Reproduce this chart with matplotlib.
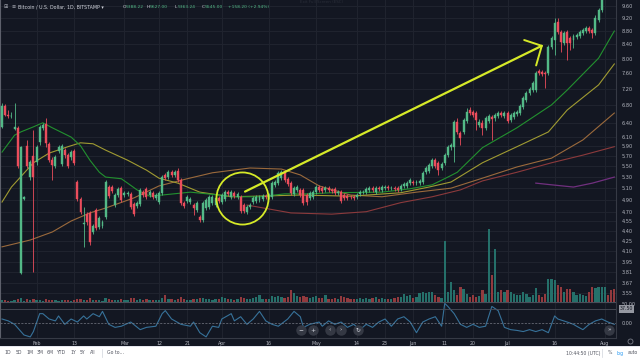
import matplotlib
matplotlib.use("Agg")
import matplotlib.pyplot as plt
import matplotlib.transforms as mtransforms
from matplotlib.lines import Line2D
from matplotlib.patches import Rectangle
import numpy as np
import pandas as pd

# ---- values (daily candles, price axis as labelled) ----
first_day = "2019-01-21"

opens = [6.31, 6.78, 6.58, 6.55, 6.27, 6.29, 3.80, 4.91, 5.91, 5.30,
         5.70, 5.59, 5.99, 6.29, 6.37, 5.95, 5.62, 5.51, 5.80, 5.55,
         5.82, 5.72, 5.68, 5.80, 5.21, 4.91, 4.50, 4.66, 4.68, 4.38,
         4.73, 4.46, 4.47, 4.61, 5.12, 5.12, 4.81, 4.98, 5.10, 4.98,
         5.00, 5.00, 4.83, 4.80, 4.83, 5.03, 5.09, 4.98, 5.02, 4.93,
         4.86, 5.02, 5.34, 5.30, 5.39, 5.34, 5.41, 5.25, 4.85, 4.88,
         4.86, 4.81, 4.73, 4.61, 4.57, 4.76, 4.78, 4.85, 4.81, 4.93,
         4.86, 4.91, 5.03, 4.95, 5.02, 4.95, 4.95, 4.81, 4.70, 4.78,
         4.86, 4.88, 4.90, 4.91, 4.96, 4.95, 4.95, 5.16, 5.19, 5.28,
         5.39, 5.27, 5.19, 5.00, 5.07, 5.07, 5.07, 4.98, 4.93, 4.95,
         5.03, 5.12, 5.10, 5.07, 5.10, 5.07, 5.09, 5.02, 5.03, 4.98,
         4.96, 4.95, 4.95, 4.95, 5.00, 5.03, 5.03, 5.07, 5.10, 5.03,
         5.10, 5.07, 5.10, 5.12, 5.10, 5.10, 5.10, 5.09, 5.14, 5.14,
         5.19, 5.21, 5.19, 5.19, 5.21, 5.39, 5.41, 5.51, 5.62, 5.57,
         5.47, 5.57, 5.72, 5.89, 5.89, 6.42, 6.18, 6.20, 6.44, 6.69,
         6.64, 6.62, 6.35, 6.40, 6.29, 6.44, 6.53, 6.51, 6.55, 6.62,
         6.55, 6.62, 6.46, 6.53, 6.60, 6.62, 6.76, 6.93, 7.10, 7.17,
         7.17, 7.66, 7.63, 7.61, 7.61, 8.33, 8.53, 9.08, 8.77, 8.44,
         8.77, 8.59, 8.53, 8.62, 8.65, 8.74, 8.80, 8.89, 8.83, 8.74,
         9.14, 9.47, 9.90, 10.15, 10.05, 9.95]

closes = [6.78, 6.58, 6.55, 6.56, 6.31, 5.51, 5.89, 4.95, 5.51, 5.59,
          5.30, 5.89, 6.31, 6.35, 5.97, 5.62, 5.53, 5.68, 5.89, 5.91,
          5.72, 5.51, 5.78, 5.57, 4.91, 4.70, 4.52, 4.53, 4.23, 4.47,
          4.44, 4.60, 4.53, 5.21, 4.96, 5.05, 4.98, 5.09, 4.90, 5.02,
          5.02, 4.78, 4.66, 4.85, 5.07, 4.98, 4.95, 5.03, 4.95, 4.98,
          5.02, 5.30, 5.28, 5.39, 5.34, 5.39, 5.25, 4.85, 4.80, 4.95,
          4.91, 4.76, 4.85, 4.57, 4.85, 4.90, 4.95, 4.95, 4.93, 4.88,
          4.98, 5.03, 5.00, 5.03, 4.96, 5.00, 4.71, 4.71, 4.78, 4.81,
          4.93, 4.95, 4.95, 4.96, 4.95, 4.98, 5.19, 5.21, 5.38, 5.39,
          5.25, 5.17, 5.02, 5.10, 5.12, 4.98, 4.85, 4.86, 5.02, 5.03,
          5.12, 5.07, 5.05, 5.10, 5.07, 5.05, 5.02, 5.03, 4.88, 4.93,
          4.93, 4.94, 4.93, 4.98, 5.03, 5.04, 5.09, 5.10, 5.07, 5.10,
          5.09, 5.12, 5.12, 5.10, 5.11, 5.09, 5.07, 5.14, 5.17, 5.19,
          5.25, 5.19, 5.21, 5.23, 5.38, 5.47, 5.53, 5.62, 5.51, 5.43,
          5.55, 5.72, 5.89, 5.93, 6.42, 6.20, 6.07, 6.46, 6.64, 6.62,
          6.58, 6.46, 6.42, 6.29, 6.51, 6.55, 6.49, 6.58, 6.62, 6.58,
          6.62, 6.44, 6.58, 6.62, 6.64, 6.78, 6.98, 7.10, 7.20, 7.35,
          7.61, 7.61, 7.58, 7.58, 8.33, 8.59, 9.05, 8.77, 8.47, 8.74,
          8.44, 8.44, 8.65, 8.68, 8.77, 8.83, 8.89, 8.80, 8.74, 9.21,
          9.47, 9.85, 10.15, 10.05, 9.95, 9.90]

highs = [6.85, 6.83, 6.69, 6.64, 6.85, 6.33, 5.91, 4.96, 6.03, 5.62,
         6.24, 5.93, 6.35, 6.40, 6.51, 5.99, 5.68, 5.72, 5.93, 5.95,
         5.87, 5.76, 5.82, 5.84, 5.25, 4.95, 4.78, 4.70, 4.71, 4.50,
         4.76, 4.63, 4.57, 5.25, 5.16, 5.16, 5.02, 5.12, 5.14, 5.05,
         5.05, 5.03, 4.86, 4.88, 5.10, 5.07, 5.12, 5.07, 5.05, 5.02,
         5.05, 5.34, 5.38, 5.43, 5.43, 5.43, 5.47, 5.28, 4.88, 4.98,
         4.95, 4.85, 4.88, 4.65, 4.88, 4.93, 4.98, 4.98, 4.96, 4.96,
         5.02, 5.07, 5.07, 5.07, 5.05, 5.03, 4.98, 4.85, 4.81, 4.85,
         4.96, 4.98, 4.98, 5.00, 5.00, 5.02, 5.23, 5.25, 5.41, 5.43,
         5.43, 5.30, 5.23, 5.14, 5.16, 5.10, 5.10, 5.02, 5.05, 5.07,
         5.16, 5.16, 5.14, 5.14, 5.14, 5.10, 5.12, 5.07, 5.07, 5.02,
         5.00, 4.98, 4.98, 5.02, 5.07, 5.07, 5.12, 5.14, 5.14, 5.14,
         5.14, 5.16, 5.16, 5.16, 5.14, 5.14, 5.14, 5.17, 5.21, 5.23,
         5.28, 5.25, 5.25, 5.27, 5.41, 5.51, 5.57, 5.66, 5.66, 5.60,
         5.59, 5.76, 5.93, 5.97, 6.46, 6.51, 6.22, 6.51, 6.74, 6.76,
         6.69, 6.67, 6.49, 6.46, 6.55, 6.60, 6.58, 6.62, 6.67, 6.67,
         6.67, 6.67, 6.62, 6.67, 6.69, 6.83, 7.02, 7.15, 7.25, 7.40,
         7.66, 7.71, 7.69, 7.66, 8.38, 8.65, 9.21, 9.21, 8.83, 8.80,
         8.83, 8.65, 8.71, 8.74, 8.83, 8.89, 8.96, 8.96, 8.89, 9.30,
         9.53, 9.95, 10.30, 10.40, 10.20, 10.10]

lows = [6.29, 6.55, 6.51, 6.51, 6.24, 5.47, 3.79, 4.90, 5.47, 5.25,
        3.81, 5.53, 5.93, 6.24, 5.89, 5.59, 5.25, 5.47, 5.76, 5.51,
        5.66, 5.47, 5.62, 5.53, 4.88, 4.66, 4.16, 4.49, 4.19, 4.35,
        4.41, 4.43, 4.44, 4.58, 4.93, 5.02, 4.78, 4.95, 4.86, 4.95,
        4.96, 4.75, 4.63, 4.76, 4.80, 4.95, 4.91, 4.95, 4.91, 4.90,
        4.83, 4.98, 5.25, 5.27, 5.30, 5.30, 5.21, 4.81, 4.76, 4.85,
        4.83, 4.65, 4.70, 4.53, 4.53, 4.73, 4.75, 4.81, 4.78, 4.85,
        4.83, 4.88, 4.96, 4.91, 4.93, 4.91, 4.68, 4.68, 4.66, 4.75,
        4.83, 4.85, 4.86, 4.88, 4.91, 4.91, 4.91, 5.12, 5.16, 5.25,
        5.21, 5.14, 4.98, 4.96, 5.03, 4.95, 4.81, 4.81, 4.90, 4.91,
        5.00, 5.03, 5.02, 5.03, 5.03, 5.02, 4.98, 4.98, 4.85, 4.90,
        4.90, 4.91, 4.90, 4.91, 4.96, 5.00, 5.00, 5.03, 5.03, 5.00,
        5.05, 5.03, 5.07, 5.07, 5.07, 5.05, 5.03, 5.05, 5.10, 5.10,
        5.16, 5.16, 5.16, 5.16, 5.17, 5.36, 5.38, 5.47, 5.47, 5.34,
        5.43, 5.53, 5.68, 5.82, 5.59, 6.16, 5.93, 6.16, 6.40, 6.58,
        6.53, 6.24, 6.31, 6.13, 6.24, 6.40, 6.03, 6.44, 6.51, 6.53,
        6.51, 6.40, 6.42, 6.49, 6.55, 6.58, 6.71, 6.88, 7.05, 7.12,
        7.12, 7.55, 7.53, 7.22, 7.55, 8.27, 8.10, 8.71, 8.18, 8.38,
        7.96, 8.24, 8.30, 8.56, 8.59, 8.68, 8.74, 8.74, 8.59, 8.68,
        9.08, 9.40, 9.88, 9.95, 9.88, 9.86]

volume_k = [2, 2, 1, 1, 2, 3, 4, 1, 3, 2,
            3, 2, 2, 1, 3, 2, 2, 2, 1, 2,
            2, 2, 1, 2, 3, 3, 2, 2, 4, 2,
            2, 2, 1, 4, 3, 2, 2, 2, 3, 2,
            2, 4, 4, 2, 3, 2, 3, 2, 2, 2,
            2, 4, 7, 3, 3, 2, 3, 5, 3, 2,
            2, 3, 3, 4, 4, 3, 3, 2, 3, 3,
            5, 4, 3, 3, 2, 3, 5, 4, 3, 3,
            4, 5, 7, 3, 3, 3, 6, 5, 6, 5,
            4, 5, 12, 9, 6, 5, 6, 5, 4, 5,
            6, 4, 4, 7, 3, 3, 4, 3, 6, 5,
            4, 3, 3, 3, 4, 3, 4, 3, 4, 5,
            3, 4, 3, 3, 3, 4, 5, 5, 8, 6,
            7, 4, 5, 9, 10, 9, 10, 10, 7, 5,
            4, 61, 10, 20, 12, 7, 15, 13, 8, 5,
            7, 5, 6, 12, 8, 73, 27, 53, 10, 12,
            10, 12, 10, 8, 7, 7, 10, 8, 5, 7,
            14, 7, 5, 8, 23, 23, 22, 17, 15, 10,
            13, 13, 10, 7, 8, 7, 6, 10, 15, 14,
            15, 15, 15, 7, 12, 13]

# moving averages (sparse readings: day index, price)
ma_green_days = [0, 4, 6, 10, 13, 16, 22, 25, 28, 31, 33, 38, 40, 43, 47, 51, 60, 69, 75, 82,
                 90, 98, 105, 121, 130, 137, 142, 145, 153, 164, 175, 180, 190, 195]
ma_green = [5.78, 6.13, 6.20, 6.31, 6.40, 6.29, 6.09, 5.91, 5.62, 5.39, 5.30, 5.27, 5.19, 5.07,
            4.96, 4.98, 5.03, 4.98, 4.95, 4.95, 5.00, 5.00, 5.02, 5.03, 5.09, 5.16, 5.30, 5.39,
            5.87, 6.29, 6.81, 7.17, 8.01, 8.80]
ma_olive_days = [0, 3, 10, 15, 21, 25, 29, 33, 40, 46, 50, 56, 63, 73, 81, 95, 111, 127, 136,
                 143, 153, 164, 174, 180, 190, 195]
ma_olive = [4.86, 5.12, 5.57, 5.76, 5.89, 5.97, 5.95, 5.82, 5.62, 5.43, 5.28, 5.19, 5.03, 4.95,
            4.96, 4.98, 4.96, 5.02, 5.12, 5.21, 5.57, 5.89, 6.20, 6.69, 7.30, 7.85]
ma_brown_days = [0, 9, 16, 22, 28, 33, 42, 50, 59, 67, 79, 89, 95, 101, 111, 121, 132, 143, 153,
                 164, 175, 185, 195]
ma_brown = [4.16, 4.26, 4.38, 4.55, 4.68, 4.76, 4.93, 5.14, 5.27, 5.38, 5.47, 5.45, 5.34, 5.14,
            4.98, 4.95, 5.03, 5.10, 5.28, 5.49, 5.66, 6.03, 6.62]
ma_red_days = [78, 92, 105, 116, 127, 137, 146, 153, 164, 175, 185, 195]
ma_red = [4.81, 4.68, 4.66, 4.70, 4.85, 4.95, 5.07, 5.23, 5.39, 5.57, 5.72, 5.89]
ma_purple_days = [170, 175, 182, 188, 195]
ma_purple = [5.19, 5.16, 5.12, 5.19, 5.30]

# lower oscillator pane (day index, value)
osc_days = [0, 2, 4, 7, 9, 10, 12, 13, 15, 17, 18, 20, 22, 24, 26, 27, 29, 31, 32, 34,
            36, 38, 41, 44, 46, 49, 51, 52, 54, 57, 60, 61, 63, 65, 67, 69, 70, 73, 74, 76,
            78, 80, 82, 84, 86, 88, 91, 93, 95, 96, 98, 101, 102, 104, 106, 108, 110, 112, 114, 116,
            118, 120, 122, 124, 126, 128, 130, 132, 134, 136, 138, 140, 141, 142, 144, 146, 148, 150, 152, 154,
            156, 158, 160, 162, 164, 166, 168, 170, 172, 174, 176, 177, 180, 182, 183, 185, 187, 189, 191, 193,
            195]
osc_values = [11, 6, -3, -31, -36, -22, 25, 25, 11, 6, 19, -3, 11, 3, 19, 11, 25, 17, 31, -3,
              -11, -8, 3, -17, -11, -8, 25, 33, 11, -3, -8, 3, -25, -36, -8, -11, 11, 25, 6, 17,
              -3, 11, 31, 6, -3, -8, 11, 31, 17, -11, -3, 3, -8, 6, -3, 3, -11, -3, -17, -3,
              -11, 3, 11, -8, 11, 17, 3, -25, 3, 11, 17, -8, 52, 44, 25, -3, -11, -3, -11, -8,
              44, 33, -11, -17, -19, -22, -17, -22, -17, -25, 19, 11, 3, -3, -8, -17, -3, 6, 11, 3,
              -3]

price_ticks = [9.60, 9.20, 8.80, 8.40, 8.00, 7.60, 7.20, 6.80, 6.40, 6.10, 5.90, 5.70, 5.50,
               5.30, 5.10, 4.90, 4.70, 4.55, 4.40, 4.25, 4.10, 3.95, 3.81, 3.67, 3.55]
tick_dates = ["2019-02-01", "2019-02-13", "2019-03-01", "2019-03-12", "2019-03-21", "2019-04-01",
              "2019-04-16", "2019-05-01", "2019-05-14", "2019-05-23", "2019-06-01", "2019-06-11",
              "2019-06-20", "2019-07-01", "2019-07-16", "2019-08-01"]
tick_labels = ["Feb", "13", "Mar", "12", "21", "Apr", "16", "May", "14", "23", "Jun", "11",
               "20", "Jul", "16", "Aug"]

# ---- style ----
BG = "#131722"
GRID = "#20242f"
TXT = "#b2b5be"
UP, DOWN = "#53b987", "#eb4d5c"
VUP, VDOWN = "#25706a", "#923a3e"
YEL = "#d6ea28"

W, H = 640, 360
def fx(px):
    return px / W
def fy(py):
    return 1 - py / H

o = np.array(opens); c = np.array(closes)
hi = np.array(highs); lo = np.array(lows)
n = len(closes)
x = np.arange(n)
dates = pd.date_range(first_day, periods=n, freq="D")
tick_pos = dates.get_indexer(pd.to_datetime(tick_dates))
up = c >= o
cols = np.where(up, UP, DOWN)
vcols = np.where(up, VUP, VDOWN)

fig = plt.figure(figsize=(6.4, 3.6), dpi=100, facecolor=BG)

main_rect = [0, fy(302), fx(616), 302 / H]
ax = fig.add_axes(main_rect, facecolor=BG, zorder=1)
ax.set_yscale("log")
ax.set_xlim(-0.64, 195.54)
ax.set_ylim(3.435, 9.802)
ax.set_yticks(price_ticks)
ax.set_yticklabels([f"{v:.2f}" for v in price_ticks])
ax.minorticks_off()
ax.yaxis.tick_right()
ax.tick_params(axis="y", length=0, pad=4, labelsize=3.6, labelcolor=TXT)
ax.set_xticks(tick_pos)
ax.tick_params(axis="x", length=0, labelbottom=False)
ax.grid(True, color=GRID, lw=0.7)
ax.set_axisbelow(True)
for s in ["top", "bottom"]:
    ax.spines[s].set_visible(False)
ax.spines["left"].set_color("#5d606b")
ax.spines["right"].set_color("#363a45")

# moving averages
ax.plot(ma_brown_days, ma_brown, color="#9b6a3c", lw=0.8)
ax.plot(ma_red_days, ma_red, color="#8c3a3c", lw=0.8)
ax.plot(ma_purple_days, ma_purple, color="#71307f", lw=0.9)
ax.plot(ma_olive_days, ma_olive, color="#a09b32", lw=0.8)
ax.plot(ma_green_days, ma_green, color="#22912f", lw=0.8)

# candles
ax.vlines(x, lo, hi, colors=cols, lw=0.6, zorder=3)
ax.bar(x, np.abs(c - o), bottom=np.minimum(o, c), width=0.62, color=cols,
       edgecolor=cols, linewidth=0.3, zorder=4)

# yellow annotation: circle + arrow
ax.plot([76.4], [4.93], marker="o", ms=37.5, mfc="none", mec=YEL, mew=1.3, zorder=6)
ax.plot([77.4, 171.9], [5.04, 8.36], color=YEL, lw=1.6, solid_capstyle="round", zorder=6)
ax.plot([166.3, 171.9, 170.1], [8.53, 8.36, 7.81], color=YEL, lw=1.4,
        solid_capstyle="round", solid_joinstyle="miter", zorder=6)

# volume overlay
ax_vol = fig.add_axes(main_rect, sharex=ax, zorder=2)
ax_vol.patch.set_alpha(0)
ax_vol.bar(x, volume_k, width=0.72, color=vcols)
ax_vol.set_ylim(0, 302)
ax_vol.axis("off")

# oscillator pane
ax_ind = fig.add_axes([0, fy(338), fx(616), 36 / H], sharex=ax, facecolor=BG)
ax_ind.set_ylim(-38.9, 55.6)
ax_ind.plot(osc_days, osc_values, color="#37729a", lw=0.8)
ax_ind.axhline(0, color="#787b86", lw=0.5, ls=(0, (3, 2)))
ax_ind.axhline(37.5, color="#4a4e59", lw=0.6)
ax_ind.set_yticks([50, 0])
ax_ind.set_yticklabels(["50.00", "0.00"])
ax_ind.yaxis.tick_right()
ax_ind.set_xticks(tick_pos)
ax_ind.set_xticklabels(tick_labels)
ax_ind.tick_params(axis="y", length=0, pad=4, labelsize=3.5, labelcolor=TXT)
ax_ind.tick_params(axis="x", length=0, pad=2.5, labelsize=3.4, labelcolor=TXT)
ax_ind.grid(True, axis="x", color=GRID, lw=0.7)
ax_ind.spines["top"].set_color("#4a4e59")
ax_ind.spines["bottom"].set_color("#363a45")
ax_ind.spines["left"].set_color("#5d606b")
ax_ind.spines["right"].set_color("#363a45")
blend = mtransforms.blended_transform_factory(ax_ind.transAxes, ax_ind.transData)
ax_ind.text(1.006, 37.5, "37.50", transform=blend, fontsize=3.4, color=BG, va="center",
            ha="left", clip_on=False,
            bbox=dict(facecolor="#9598a1", edgecolor="none", pad=0.8))

# chart navigation buttons
for bx, sym in zip([301, 313, 330, 341, 358, 609], ["−", "+", "‹", "›", "↻", "»"]):
    fig.add_artist(Line2D([fx(bx)], [fy(330)], marker="o", ms=6.5, color="#363a45",
                          mec="#363a45", alpha=0.95, transform=fig.transFigure))
    fig.text(fx(bx), fy(330), sym, fontsize=4.2, color="#d1d4dc", ha="center", va="center")
fig.add_artist(Line2D([fx(630)], [fy(341)], marker="o", ms=3.6, mfc="none", mec="#787b86",
                      mew=0.6, transform=fig.transFigure))

# header legend
hy = fy(7)
fig.text(fx(3), hy, "⊞", fontsize=3.6, color=TXT, va="center")
fig.text(fx(12), hy, "≡", fontsize=3.6, color=TXT, va="center")
fig.text(fx(18), hy, "Bitcoin / U.S. Dollar, 1D, BITSTAMP ▾", fontsize=3.4,
         color="#d1d4dc", va="center")
for lx, letter, vx, val in [(123, "O", 126, "5388.22"), (147, "H", 150, "5627.00"),
                            (175, "L", 177.5, "5363.24"), (202, "C", 205, "5545.00")]:
    fig.text(fx(lx), hy, letter, fontsize=3.2, color="#d1d4dc", va="center")
    fig.text(fx(vx), hy, val, fontsize=3.2, color=UP, va="center")
fig.text(fx(228), hy, "+158.20 (+2.94%)", fontsize=3.2, color=UP, va="center")

# exit full screen hint
fig.add_artist(Rectangle((fx(302), fy(5)), fx(40), 5 / H, transform=fig.transFigure,
                         facecolor="#a3a6af", edgecolor="none"))
fig.text(fx(322), fy(2.3), "Exit Full Screen (ESC)", fontsize=2.9, color="#2a2e39",
         ha="center", va="center")

# bottom toolbar
fig.add_artist(Rectangle((0, 0), 1, 14 / H, transform=fig.transFigure,
                         facecolor="#ffffff", edgecolor="none"))
fig.add_artist(Line2D([0, 1], [14 / H, 14 / H], color="#e0e3eb", lw=0.6,
                      transform=fig.transFigure))
ty = fy(353)
for bx, lab in zip([8, 19, 30, 40, 50, 61, 73, 83, 93],
                   ["1D", "5D", "1M", "3M", "6M", "YTD", "1Y", "5Y", "All"]):
    fig.text(fx(bx), ty, lab, fontsize=3.3, color="#50535e", ha="center", va="center")
fig.add_artist(Line2D([fx(102), fx(102)], [fy(349), fy(357)], color="#d1d4dc", lw=0.5,
                      transform=fig.transFigure))
fig.text(fx(107), ty, "Go to...", fontsize=3.3, color="#50535e", va="center")
fig.text(fx(566), ty, "10:44:50 (UTC)", fontsize=3.3, color="#50535e", va="center")
fig.add_artist(Line2D([fx(602), fx(602)], [fy(349), fy(357)], color="#d1d4dc", lw=0.5,
                      transform=fig.transFigure))
fig.text(fx(610), ty, "%", fontsize=3.3, color="#50535e", ha="center", va="center")
fig.text(fx(620), ty, "log", fontsize=3.3, color="#2196f3", ha="center", va="center")
fig.text(fx(633), ty, "auto", fontsize=3.3, color="#50535e", ha="center", va="center")

fig.savefig("out.png", dpi=100, facecolor=BG)
